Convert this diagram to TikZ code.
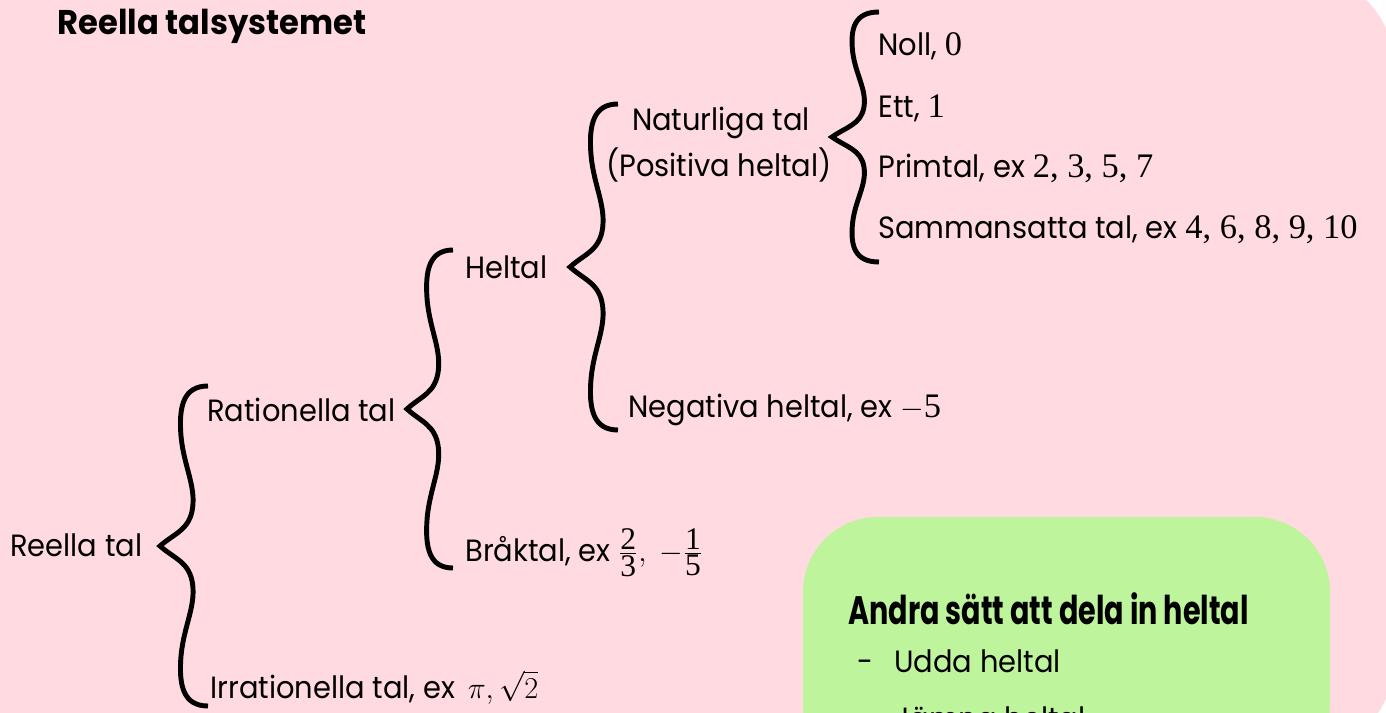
\documentclass[tikz,border=0pt]{standalone}
\usepackage{amsmath}
\usepackage{fontspec}
\setmainfont{Poppins}[FakeStretch=0.94]
\newfontfamily\tnr{Liberation Serif}[Scale=1.12]
\newfontfamily\smal{Poppins}[FakeStretch=0.72]
\usetikzlibrary{positioning}

\definecolor{rosa}{RGB}{255,218,225}
\definecolor{gron}{RGB}{190,244,156}

\newcommand\brok[2]{\frac{\text{\fontsize{16}{16}\tnr #1}}{\text{\fontsize{16}{16}\tnr #2}}}

\tikzset{
  tekst/.style={anchor=base west, inner sep=0pt, font=\fontsize{17.5}{21}\selectfont},
  rubrik/.style={tekst, font=\fontsize{19.5}{23}\selectfont\bfseries},
  klammerlinje/.style={line width=2.8pt},
  klammer/.pic={
    \draw[klammerlinje] (1,1) .. controls (0.5,1) and (0.38,0.88) .. (0.44,0.68)
      .. controls (0.5,0.5) and (0.74,0.38) .. (0.68,0.24)
      .. controls (0.62,0.1) and (0.3,0.08) .. (0,0)
      .. controls (0.3,-0.08) and (0.62,-0.1) .. (0.68,-0.24)
      .. controls (0.74,-0.38) and (0.5,-0.5) .. (0.44,-0.68)
      .. controls (0.38,-0.88) and (0.5,-1) .. (1,-1);
  }
}

\begin{document}
\begin{tikzpicture}[x=0.02cm, y=-0.02cm]
      \useasboundingbox (0,0) rectangle (1386,713);
      \clip (0,0) rectangle (1386,713);
      \fill[rosa, rounded corners=2cm] (-29,-30) rectangle (1395,757);
      \fill[gron, rounded corners=1.5cm] (803,517) rectangle (1330,780);

      \node[rubrik] (titel) at (57,35) {Reella talsystemet};

      \node[tekst] (reella) at (10,556) {Reella tal};
      \pic[shift={(160,546)}, xscale=48, yscale=160] {klammer};
      \node[tekst] (rationella) at (207,421) {Rationella tal};
      \node[tekst] (irrationella) at (210,698) {Irrationella tal, ex\, $\pi, \sqrt{2}$};

      \pic[shift={(407,409)}, xscale=46, yscale=159] {klammer};
      \node[tekst] (heltal) at (465,278) {Heltal};
      \node[tekst] (brak) at (465,561) {Bråktal, ex $\brok{2}{3},\ -\brok{1}{5}$};

      \pic[shift={(570,267)}, xscale=48, yscale=163] {klammer};
      \node[tekst, anchor=base] (natur) at (721,131) {Naturliga tal};
      \node[tekst, anchor=base] (positiva) at (719,176) {(Positiva heltal)};
      \node[tekst] (negativa) at (628,417) {Negativa heltal, ex $-${\tnr 5}};

      \pic[shift={(832,137)}, xscale=47, yscale=125] {klammer};
      \node[tekst] (noll) at (878,56) {Noll, {\tnr 0}};
      \node[tekst] (ett) at (878,117) {Ett, {\tnr 1}};
      \node[tekst] (prim) at (878,177) {Primtal, ex {\tnr 2, 3, 5, 7}};
      \node[tekst] (samman) at (878,238) {Sammansatta tal, ex {\tnr 4, 6, 8, 9, 10}};

      % rutan med andra indelningar
      \node[tekst, font=\fontsize{22.6}{25}\smal\bfseries] (andra) at (848,624) {Andra sätt att dela in heltal};
      \node[tekst] (streck1) at (857,672) {-};
      \node[tekst] (udda) at (894,672) {Udda heltal};
      \node[tekst] (streck2) at (857,731) {-};
      \node[tekst] (jamna) at (894,729) {Jämna heltal};
    \end{tikzpicture}
\end{document}
